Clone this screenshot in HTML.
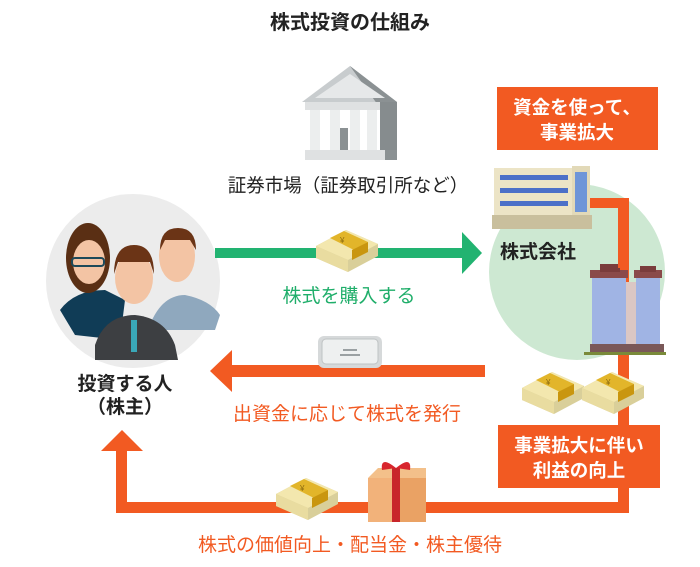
<!DOCTYPE html>
<html><head><meta charset="utf-8"><style>
body{margin:0;width:700px;height:567px;background:#fff;overflow:hidden}
svg{display:block}
text{font-family:"Liberation Sans","Noto Sans CJK JP",sans-serif}
</style></head><body>
<svg width="700" height="567" viewBox="0 0 700 567">
<defs>
<g id="money">
 <polygon points="0,22 30,6 62,20 62,32 32,48 0,34" fill="#d9cf9a"/>
 <polygon points="0,22 30,6 62,20 32,36" fill="#f3e7ae"/>
 <polygon points="0,22 32,36 32,48 0,34" fill="#e9dca0"/>
 <polygon points="14,14 28,7 52,18 38,26" fill="#e2b52a"/>
 <polygon points="36,26 52,18 52,28 36,36" fill="#c9960f"/>
 <text x="24" y="19" font-size="8" fill="#8a6a10">¥</text>
</g>
</defs>
<text x="350" y="29" font-size="20" font-weight="bold" text-anchor="middle" fill="#222">株式投資の仕組み</text>

<!-- bank -->
<polygon points="302,102 350,66 397,102" fill="#c8ccce"/>
<polygon points="350,66 397,102 397,108 380,108" fill="#8b9193"/>
<polygon points="315,98 350,74 385,98" fill="#e6e8e9"/>
<rect x="305" y="102" width="92" height="8" fill="#dfe1e2"/>
<rect x="380" y="102" width="17" height="50" fill="#868c8e"/>
<rect x="310" y="110" width="10" height="40" fill="#eceeee"/><rect x="330" y="110" width="10" height="40" fill="#eceeee"/>
<rect x="350" y="110" width="10" height="40" fill="#eceeee"/><rect x="367" y="110" width="10" height="40" fill="#eceeee"/>
<rect x="340" y="128" width="8" height="22" fill="#8b9193"/>
<rect x="305" y="150" width="80" height="10" fill="#dfe1e2"/><rect x="385" y="150" width="12" height="10" fill="#8b9193"/>
<text x="348" y="192" font-size="18.5" text-anchor="middle" fill="#222">証券市場（証券取引所など）</text>

<!-- investors circle -->
<circle cx="133" cy="281" r="87" fill="#ececec"/>
<path d="M60,310 Q75,290 105,290 L125,300 L120,340 L75,335 Z" fill="#103c56"/>
<ellipse cx="88" cy="258" rx="22" ry="35" fill="#5a2f14"/>
<ellipse cx="89" cy="262" rx="16" ry="22" fill="#f3c4a4"/>
<rect x="72" y="258" width="32" height="8" rx="3" fill="none" stroke="#1d4a5a" stroke-width="2"/>
<path d="M148,330 Q160,295 185,295 Q210,300 220,315 L215,330 Z" fill="#8fa8be"/>
<ellipse cx="177" cy="256" rx="18" ry="26" fill="#f3c4a4"/>
<path d="M160,250 Q160,228 178,228 Q196,228 196,250 L190,240 L165,240Z" fill="#6b3416"/>
<path d="M95,345 Q105,315 135,315 Q165,318 175,345 L178,360 L95,360Z" fill="#3d3f42"/>
<ellipse cx="134" cy="278" rx="19" ry="26" fill="#f3c4a4"/>
<path d="M114,274 Q114,245 134,245 Q154,245 154,274 L150,262 L118,262Z" fill="#6b3416"/>
<rect x="131" y="320" width="6" height="32" fill="#3aa8b8"/>
<text x="125" y="390" font-size="19" font-weight="bold" text-anchor="middle" fill="#222">投資する人</text>
<text x="125" y="413" font-size="19" font-weight="bold" text-anchor="middle" fill="#222">（株主）</text>

<!-- green circle -->
<circle cx="577" cy="272" r="88" fill="#cde8d2"/>

<!-- green arrow -->
<rect x="215" y="248" width="250" height="10" fill="#22b371"/>
<polygon points="462,232 482,253 462,274" fill="#22b371"/>
<use href="#money" x="316" y="224"/>
<text x="349" y="302" font-size="19" text-anchor="middle" fill="#1fae6a">株式を購入する</text>

<!-- orange left arrow -->
<rect x="228" y="365" width="257" height="12" fill="#f25a22"/>
<polygon points="210,371 232,350 232,392" fill="#f25a22"/>
<rect x="318" y="336" width="64" height="32" rx="6" fill="#d6d9da"/>
<rect x="322" y="339" width="56" height="25" rx="4" fill="#eef0f0" stroke="#bfc3c4"/>
<rect x="343" y="349" width="14" height="2" fill="#9aa0a2"/><rect x="340" y="354" width="20" height="2" fill="#9aa0a2"/>
<text x="347" y="420" font-size="19" text-anchor="middle" fill="#f25a22">出資金に応じて株式を発行</text>

<!-- right orange path -->
<rect x="586" y="198" width="43" height="10" fill="#f25a22"/>
<rect x="618" y="198" width="11" height="315" fill="#f25a22"/>
<rect x="116" y="502" width="513" height="11" fill="#f25a22"/>
<rect x="116" y="448" width="11" height="65" fill="#f25a22"/>
<polygon points="122,430 101,451 143,451" fill="#f25a22"/>

<!-- office -->
<rect x="494" y="168" width="80" height="60" fill="#ece4c6"/>
<rect x="572" y="166" width="18" height="62" fill="#e2d9b8"/>
<rect x="575" y="172" width="12" height="40" fill="#6e95d8"/>
<g fill="#4c70c8">
<rect x="500" y="175" width="68" height="5"/><rect x="500" y="188" width="68" height="5"/><rect x="500" y="201" width="68" height="5"/>
</g>
<rect x="492" y="215" width="100" height="14" fill="#c9bf9d"/>
<text x="500" y="258" font-size="19" font-weight="bold" fill="#222">株式会社</text>

<!-- tower -->
<rect x="592" y="276" width="34" height="70" fill="#a0b4e4"/>
<rect x="626" y="282" width="10" height="64" fill="#dbc7c4"/>
<rect x="636" y="276" width="24" height="70" fill="#a0b4e4"/>
<rect x="590" y="270" width="38" height="8" fill="#8a4a4a"/><rect x="634" y="270" width="28" height="8" fill="#8a4a4a"/>
<rect x="600" y="264" width="20" height="8" fill="#7a3c3c"/><rect x="640" y="266" width="16" height="6" fill="#7a3c3c"/>
<rect x="590" y="344" width="74" height="10" fill="#7a5858"/>
<rect x="584" y="352" width="82" height="3" fill="#7a8a3a"/>
<rect x="618" y="208" width="11" height="60" fill="#f25a22"/>

<!-- right money -->
<use href="#money" x="522" y="366"/>
<use href="#money" x="582" y="366"/>

<!-- boxes -->
<rect x="497" y="87" width="161" height="63" fill="#f25a22"/>
<text x="577" y="114" font-size="18.5" font-weight="bold" text-anchor="middle" fill="#fff">資金を使って、</text>
<text x="577" y="139" font-size="18.5" font-weight="bold" text-anchor="middle" fill="#fff">事業拡大</text>
<rect x="498" y="425" width="162" height="63" fill="#f25a22"/>
<text x="579" y="452" font-size="18.5" font-weight="bold" text-anchor="middle" fill="#fff">事業拡大に伴い</text>
<text x="579" y="477" font-size="18.5" font-weight="bold" text-anchor="middle" fill="#fff">利益の向上</text>

<!-- bottom money & gift -->
<use href="#money" x="276" y="472"/>
<rect x="368" y="478" width="58" height="44" fill="#eaa264"/>
<polygon points="368,478 378,468 426,468 426,478" fill="#f3c08a"/>
<rect x="368" y="478" width="30" height="44" fill="#f2b27a"/>
<rect x="392" y="468" width="8" height="54" fill="#c8252a"/>
<path d="M396,468 Q380,455 382,470 Z M396,468 Q412,455 410,470 Z" fill="#d8262d"/>
<text x="350" y="551" font-size="19" text-anchor="middle" fill="#f25a22">株式の価値向上・配当金・株主優待</text>
</svg>
</body></html>
